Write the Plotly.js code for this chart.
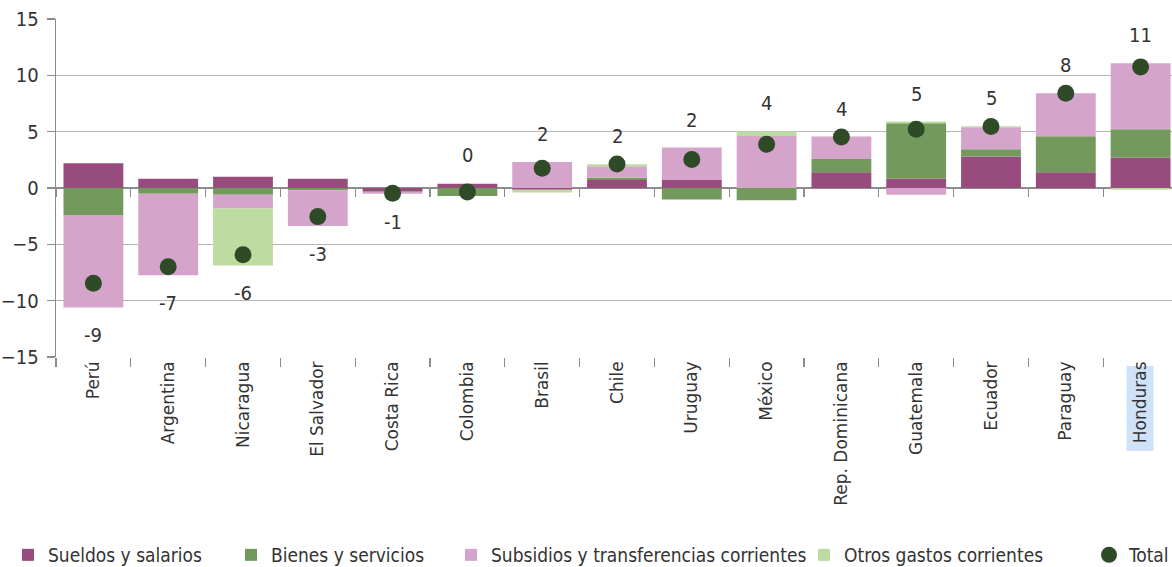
<!DOCTYPE html>
<html>
<head>
<meta charset="utf-8">
<script src="https://cdn.plot.ly/plotly-3.0.1.min.js"></script>
<style>
html,body{margin:0;padding:0;overflow:hidden;background:#fff;}
#chart{width:1178px;height:567px;}
</style>
</head>
<body>
<div id="chart"></div>
<script>
var countries = ['Perú','Argentina','Nicaragua','El Salvador','Costa Rica','Colombia','Brasil','Chile','Uruguay','México','Rep. Dominicana','Guatemala','Ecuador','Paraguay','Honduras'];
var sueldos   = [2.2, 0.83, 1.0, 0.83, -0.3, 0.35, -0.15, 0.71, 0.71, 0, 1.39, 0.83, 2.79, 1.39, 2.7];
var bienes    = [-2.4, -0.5, -0.6, -0.2, -0.05, -0.7, 0, 0.2, -1.03, -1.09, 1.19, 4.92, 0.65, 3.2, 2.51];
var subsidios = [-8.2, -7.25, -1.23, -3.17, -0.15, 0.05, 2.3, 1.02, 2.88, 4.62, 1.98, -0.59, 1.95, 3.82, 5.86];
var otros     = [0, 0, -5.04, 0, 0, 0, -0.25, 0.18, 0, 0.41, 0, 0.15, 0.09, 0, -0.15];
var total     = [-8.46, -6.98, -5.92, -2.54, -0.47, -0.35, 1.75, 2.13, 2.52, 3.88, 4.53, 5.21, 5.45, 8.41, 10.75];
var totalLabels = [-9, -7, -6, -3, -1, 0, 2, 2, 2, 4, 4, 5, 5, 8, 11];
var seriesNames = ['Sueldos y salarios','Bienes y servicios','Subsidios y transferencias corrientes','Otros gastos corrientes','Total'];
var highlighted = 'Honduras';

var numFont = '"Liberation Sans Narrow", "DejaVu Sans Condensed", "Roboto", sans-serif';
var colors = ['#974c7d', '#74995d', '#d4a4ca', '#bcdca2', '#2e4a26'];

var W = 1178, H = 567, ML = 56, MR = 0, MT = 19, MB = 210;
var plotW = W - ML - MR, plotH = H - MT - MB;

function bar(i, y){
  return {type:'bar', name:seriesNames[i], x:countries, y:y, marker:{color:colors[i], line:{width:0}},
          width:0.8, hoverinfo:'skip', legend: i===0 ? 'legend' : 'legend'+(i+1)};
}
var traces = [
  bar(0, sueldos), bar(1, bienes), bar(2, subsidios), bar(3, otros),
  {type:'scatter', mode:'markers', name:seriesNames[4], x:countries, y:total, legend:'legend5',
   marker:{color:colors[4], size:17, line:{width:0}}}
];

var annotations = countries.map(function(c,i){
  var pos = 0, neg = 0;
  [sueldos,bienes,subsidios,otros].forEach(function(a){ if(a[i]>0) pos+=a[i]; else neg+=a[i]; });
  var up = totalLabels[i] >= 0;
  return {x:c, y: up ? pos : neg, xref:'x', yref:'y', text:String(totalLabels[i]), showarrow:false,
          yanchor: up ? 'bottom':'top', yshift: up ? 14 : -14,
          font:{family:numFont, size:20, color:'#333333'}};
});

var n = countries.length;
var hi = countries.indexOf(highlighted);
var boundaries = [];
for (var k=0;k<=n;k++) boundaries.push(k-0.5);

// legend left edges in pixels
var legendLeftPx = [8, 231, 451, 804, 1089];
var legendY = -(555 - (MT + plotH)) / plotH;

var layout = {
  width:W, height:H,
  margin:{l:ML, r:MR, t:MT, b:MB, autoexpand:false},
  paper_bgcolor:'#ffffff', plot_bgcolor:'#ffffff',
  barmode:'relative', bargap:0.2,
  showlegend:true,
  xaxis:{type:'category', categoryorder:'array', categoryarray:countries, range:[-0.5, n-0.5],
         tickson:'boundaries', ticks:'outside', ticklen:9, tickcolor:'#8c8c8c', tickwidth:1.3,
         showline:false, showgrid:false, zeroline:false, automargin:false,
         tickangle:-90, tickfont:{family:'"DejaVu Sans", sans-serif', size:17, color:'#333333'}},
  xaxis2:{overlaying:'x', anchor:'free', position:0.5, type:'linear', range:[-0.5, n-0.5],
          tickmode:'array', tickvals:boundaries, ticks:'outside', ticklen:8, tickcolor:'#8c8c8c', tickwidth:1.3,
          showticklabels:false, showgrid:false, zeroline:false, showline:false},
  yaxis:{range:[-15,15], tickvals:[-15,-10,-5,0,5,10,15], ticks:'outside', ticklen:8, tickcolor:'#8c8c8c', tickwidth:1.3,
         showline:true, linecolor:'#8c8c8c', linewidth:1.3, automargin:false, ticklabelstandoff:4,
         showgrid:true, gridcolor:'#b5b5b5', gridwidth:1.3,
         zeroline:true, zerolinecolor:'#8c8c8c', zerolinewidth:1.3,
         tickfont:{family:numFont, size:20, color:'#333333'}},
  shapes:[{type:'rect', xref:'paper', yref:'paper', layer:'below',
           x0:(hi+0.5)/n - 0.0125, x1:(hi+0.5)/n + 0.0115,
           y0:-(366 - (MT+plotH))/plotH, y1:-(451 - (MT+plotH))/plotH,
           fillcolor:'#cfe2f7', line:{width:0}}],
  annotations:annotations
};
legendLeftPx.forEach(function(px, i){
  layout[i===0 ? 'legend' : 'legend'+(i+1)] = {
    orientation:'h', x:(px - ML)/plotW, xanchor:'left', y:legendY, yanchor:'middle',
    font:{family:numFont, size:19, color:'#333333'}, itemwidth:30, bgcolor:'rgba(0,0,0,0)'
  };
});
traces.push({type:'scatter', x:[-0.5], y:[0], xaxis:'x2', yaxis:'y', mode:'markers', marker:{opacity:0}, showlegend:false, hoverinfo:'skip'});
Plotly.newPlot('chart', traces, layout, {displayModeBar:false, staticPlot:true});
</script>
</body>
</html>
